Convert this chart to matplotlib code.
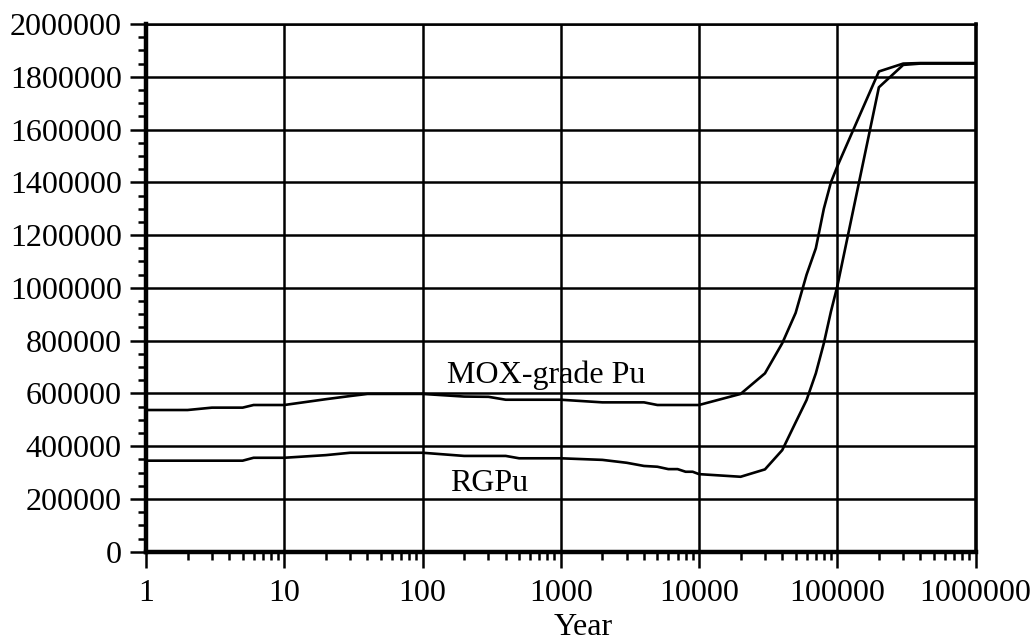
import matplotlib
matplotlib.use("Agg")
import matplotlib.pyplot as plt
from matplotlib.ticker import FixedLocator, FuncFormatter, MultipleLocator, LogLocator, NullFormatter

plt.rcParams['font.family'] = ['Liberation Serif', 'DejaVu Serif']

# MOX-grade Pu
mox_years = [1, 2, 3, 5, 6, 10, 20, 30, 40, 100, 200, 300, 400, 1000, 2000, 4000, 5000,
             10000, 20000, 30000, 40000, 50000, 60000, 70000, 80000, 90000, 100000,
             200000, 300000, 400000, 1000000]
mox_vals = [537e3, 537e3, 546e3, 546e3, 556e3, 556e3, 578e3, 590e3, 598e3, 598e3, 588e3,
            587e3, 576e3, 576e3, 566e3, 566e3, 556e3, 556e3, 598e3, 676e3, 790e3, 905e3,
            1050e3, 1150e3, 1300e3, 1400e3, 1460e3, 1820e3, 1850e3, 1852e3, 1852e3]

# RGPu
rg_years = [1, 5, 6, 10, 20, 30, 100, 200, 400, 500, 1000, 2000, 3000, 4000, 5000, 6000,
            7000, 8000, 9000, 10000, 20000, 30000, 40000, 50000, 60000, 70000, 80000,
            90000, 100000, 200000, 300000, 400000, 1000000]
rg_vals = [345e3, 345e3, 356e3, 356e3, 366e3, 375e3, 375e3, 363e3, 363e3, 354e3, 354e3,
           348e3, 337e3, 325e3, 322e3, 313e3, 313e3, 303e3, 303e3, 294e3, 284e3, 312e3,
           385e3, 490e3, 575e3, 676e3, 790e3, 910e3, 1005e3, 1760e3, 1845e3, 1850e3, 1850e3]

x_ticks = [1, 10, 100, 1000, 10000, 100000, 1000000]
y_ticks = list(range(0, 2000001, 200000))

FS = 23

fig = plt.figure(figsize=(10.35, 6.41), dpi=100)
ax = fig.add_axes([146/1035, 1 - 551.7/641, (975.5 - 146)/1035, (551.7 - 24)/641])

ax.set_xscale('log')
ax.set_xlim(1, 1e6)
ax.set_ylim(0, 2e6)

ax.plot(mox_years, mox_vals, color='black', lw=1.9, zorder=3)
ax.plot(rg_years, rg_vals, color='black', lw=1.9, zorder=3)

ax.xaxis.set_major_locator(FixedLocator(x_ticks))
ax.xaxis.set_major_formatter(FuncFormatter(lambda v, p: f"{int(round(v))}"))
ax.xaxis.set_minor_locator(LogLocator(base=10, subs=range(2, 10), numticks=20))
ax.xaxis.set_minor_formatter(NullFormatter())
ax.yaxis.set_major_locator(FixedLocator(y_ticks))
ax.yaxis.set_major_formatter(FuncFormatter(lambda v, p: f"{int(round(v))}"))
ax.yaxis.set_minor_locator(MultipleLocator(50000))

ax.grid(True, which='major', color='black', lw=1.8)
ax.set_axisbelow(True)

ax.tick_params(axis='both', which='major', direction='out', length=11.5, width=1.8,
               labelsize=FS, colors='black')
ax.tick_params(axis='both', which='minor', direction='out', length=5.8, width=1.8)
ax.tick_params(axis='x', which='major', pad=8)
ax.tick_params(axis='y', which='major', pad=6)

for side, w in [('left', 3.2), ('bottom', 3.2), ('right', 2.6), ('top', 1.8)]:
    ax.spines[side].set_linewidth(w)
    ax.spines[side].set_color('black')

ax.set_xlabel('Year', fontsize=FS)
ax.xaxis.set_label_coords(0.527, -0.1155)

ax.text(150, 638e3, 'MOX-grade Pu', fontsize=FS, ha='left', va='baseline')
ax.text(158, 231e3, 'RGPu', fontsize=FS, ha='left', va='baseline')

fig.savefig('out.png', dpi=100)
